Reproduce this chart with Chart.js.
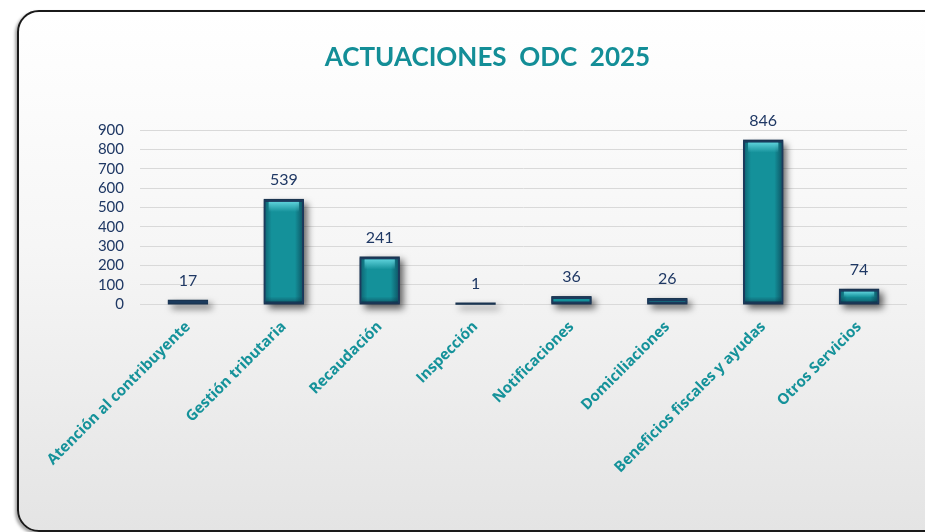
<!DOCTYPE html>
<html><head><meta charset="utf-8">
<script src="https://cdn.jsdelivr.net/npm/chart.js@4/dist/chart.umd.min.js"></script>
<style>
html,body{margin:0;padding:0;width:925px;height:532px;overflow:hidden;background:#fff;}
#frame{position:absolute;left:17px;top:10px;width:960px;height:518px;border:2px solid #1a1a1a;border-radius:22px;
 background:linear-gradient(#ffffff 0%,#f6f6f6 45%,#e4e4e4 100%);box-shadow:-2px 2px 3px rgba(0,0,0,0.35);}
#c{position:absolute;left:0;top:0;}
</style></head>
<body><div id="frame"></div><canvas id="c" width="925" height="532"></canvas>
<script>
const categories = ["Atención al contribuyente","Gestión tributaria","Recaudación","Inspección","Notificaciones","Domiciliaciones","Beneficios fiscales y ayudas","Otros Servicios"];
const values = [17,539,241,1,36,26,846,74];
const yTicks = [0,100,200,300,400,500,600,700,800,900];
const titleText = "ACTUACIONES  ODC  2025";

const TEAL = "#14919a";
const NAVY = "#1f3864";

const shadowPlugin = {
  id:'barShadow',
  beforeDatasetsDraw(chart){
    const ctx = chart.ctx;
    const meta = chart.getDatasetMeta(0);
    ctx.save();
    ctx.shadowColor = 'rgba(0,0,0,0.6)';
    ctx.shadowBlur = 7;
    ctx.shadowOffsetX = 4;
    ctx.shadowOffsetY = 4;
    ctx.fillStyle = '#1b3550';
    meta.data.forEach(b=>{
      const top = Math.min(b.y,b.base), h = Math.abs(b.base-b.y);
      ctx.fillRect(b.x-b.width/2, top-1, b.width, h+2);
    });
    ctx.restore();
  },
  afterDatasetsDraw(chart){
    const ctx = chart.ctx;
    const meta = chart.getDatasetMeta(0);
    ctx.save();
    meta.data.forEach((b,i)=>{
      const l = b.x-b.width/2+2, r = b.x+b.width/2-2;
      const top = Math.min(b.y,b.base)+2, bot = Math.max(b.y,b.base)-1;
      const h = bot-top;
      if (h > 6) {
        let g = ctx.createLinearGradient(l,0,l+6,0);
        g.addColorStop(0,'rgba(10,60,80,0.45)'); g.addColorStop(1,'rgba(10,60,80,0)');
        ctx.fillStyle=g; ctx.fillRect(l,top,6,h);
        g = ctx.createLinearGradient(r-7,0,r,0);
        g.addColorStop(0,'rgba(10,50,70,0)'); g.addColorStop(1,'rgba(10,50,70,0.55)');
        ctx.fillStyle=g; ctx.fillRect(r-7,top,7,h);
        const hh = Math.min(10,h/2);
        g = ctx.createLinearGradient(0,top,0,top+hh);
        g.addColorStop(0,'rgba(100,215,224,0.9)'); g.addColorStop(1,'rgba(100,215,224,0)');
        ctx.fillStyle=g; ctx.fillRect(l+3,top,r-l-6,hh);
        g = ctx.createLinearGradient(0,bot-6,0,bot);
        g.addColorStop(0,'rgba(10,50,70,0)'); g.addColorStop(1,'rgba(10,50,70,0.5)');
        ctx.fillStyle=g; ctx.fillRect(l,bot-6,r-l,6);
      }
      ctx.fillStyle = NAVY;
      ctx.font = '16px Lato';
      ctx.textAlign='center'; ctx.textBaseline='middle';
      ctx.fillText(String(values[i]), b.x, Math.min(b.y,b.base)-20);
    });
    ctx.restore();
  }
};

new Chart(document.getElementById('c'), {
  type:'bar',
  data:{labels:categories, datasets:[{data:values, backgroundColor:TEAL, borderColor:'#1b3a5c', borderWidth:2, borderSkipped:false, barPercentage:0.42, categoryPercentage:1, clip:false}]},
  options:{
    responsive:false, animation:false, devicePixelRatio:1,
    layout:{padding:{left:68,right:18,top:0,bottom:0}},
    plugins:{
      legend:{display:false}, tooltip:{enabled:false},
      title:{display:true,text:titleText,color:'#138e97',font:{family:'Lato',size:26,weight:'bold'},padding:{top:42,bottom:57}}
    },
    scales:{
      y:{min:0,max:900,
        afterBuildTicks(s){ s.ticks = yTicks.map(v=>({value:v})); },
        afterFit(s){ s.width = 72; },
        border:{display:false},
        grid:{color:'#d9d9d9',lineWidth:1,drawTicks:false},
        ticks:{color:NAVY,font:{family:'Lato',size:15},padding:16,autoSkip:false}
      },
      x:{
        afterFit(s){ s.height = 228; },
        border:{display:false},
        grid:{display:false,drawTicks:false},
        ticks:{color:'#15929a',font:{family:'Open Sans',size:15,weight:'bold'},maxRotation:45,minRotation:45,padding:14,labelOffset:0,autoSkip:false}
      }
    }
  },
  plugins:[shadowPlugin]
});
</script>
</body></html>
